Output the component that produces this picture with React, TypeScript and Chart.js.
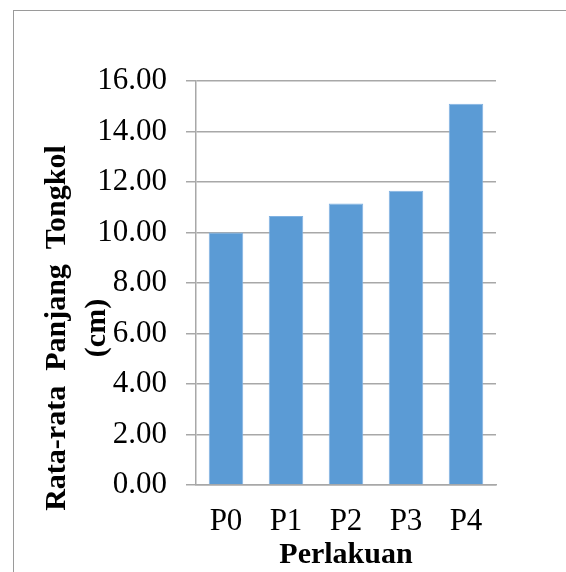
import React, { useEffect, useRef } from "react";
import { Chart, registerables } from "chart.js";

Chart.register(...registerables);

const categories = ["P0", "P1", "P2", "P3", "P4"];
const values = [10.0, 10.65, 11.15, 11.65, 15.1];
const yTitle = ["Rata-rata  Panjang  Tongkol", "(cm)"];
const xTitle = "Perlakuan";
const yMin = 0;
const yMax = 16;
const yStep = 2;

const FONT = "'Times New Roman', 'Liberation Serif', serif";

export default function App() {
  const ref = useRef<HTMLCanvasElement | null>(null);

  useEffect(() => {
    if (!ref.current) return;
    const chart = new Chart(ref.current, {
      type: "bar",
      data: {
        labels: categories,
        datasets: [
          {
            data: values,
            backgroundColor: "#5b9bd5",
            borderColor: "#80b2e2",
            borderWidth: 1,
            categoryPercentage: 1,
            barPercentage: 0.575,
          },
        ],
      },
      options: {
        responsive: false,
        animation: false,
        layout: { padding: { left: 0, top: 81, right: 70, bottom: 0 } },
        plugins: { legend: { display: false }, tooltip: { enabled: false } },
        scales: {
          x: {
            grid: { display: false, drawTicks: false, tickLength: 0 },
            border: { display: true, color: "#a8a8a8", width: 1.5 },
            ticks: {
              color: "#000",
              padding: 18,
              font: { family: FONT, size: 31, lineHeight: 1.2 },
            },
            title: {
              display: true,
              text: xTitle,
              color: "#000",
              padding: { top: 0, bottom: 2 },
              font: { family: FONT, size: 30, weight: "bold", lineHeight: 1 },
            },
            afterFit: (s: any) => {
              s.height = 87;
            },
          },
          y: {
            min: yMin,
            max: yMax,
            grid: { color: "#a8a8a8", lineWidth: 1.5, tickLength: 10 },
            border: { display: true, color: "#a8a8a8", width: 1.5 },
            ticks: {
              stepSize: yStep,
              color: "#000",
              padding: 19,
              font: { family: FONT, size: 31, lineHeight: 1.2 },
              callback: (v: any) => Number(v).toFixed(2),
            },
            title: {
              display: true,
              text: yTitle,
              color: "#000",
              padding: { top: 37, bottom: 0 },
              font: { family: FONT, size: 30, weight: "bold", lineHeight: 40 / 30 },
            },
            afterFit: (s: any) => {
              s.width = 196;
              if (!s.__titleShifted) {
                const orig = s.drawTitle.bind(s);
                s.drawTitle = () => {
                  const c = s.ctx;
                  c.save();
                  c.translate(0, 45);
                  orig();
                  c.restore();
                };
                s.__titleShifted = true;
              }
            },
          },
        },
      },
    });
    return () => chart.destroy();
  }, []);

  return (
    <div style={{ position: "fixed", left: 0, top: 0, width: 566, height: 572, background: "#fff" }}>
      <div
        style={{
          position: "fixed",
          left: 13,
          top: 10,
          width: 700,
          height: 700,
          borderLeft: "1.5px solid #9a9a9a",
          borderTop: "1.5px solid #9a9a9a",
          pointerEvents: "none",
        }}
      />
      <canvas ref={ref} width={566} height={572} style={{ position: "absolute", left: 0, top: 0 }} />
    </div>
  );
}
